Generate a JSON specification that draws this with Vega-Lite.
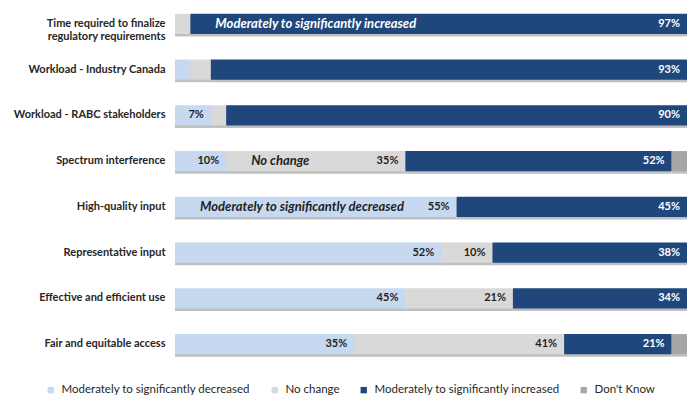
{
  "$schema": "https://vega.github.io/schema/vega-lite/v6.json",
  "description": "Stacked 100% bars of perceived change by area",
  "width": 512,
  "height": 366,
  "autosize": "none",
  "padding": {"left": 175, "top": 1, "right": 13, "bottom": 43},
  "background": "#FFFFFF",
  "data": {
    "values": [
      {"cat": "Time required to finalize regulatory requirements", "resp": "Moderately to significantly decreased", "order": 1, "pct": 0},
      {"cat": "Time required to finalize regulatory requirements", "resp": "No change", "order": 2, "pct": 3},
      {"cat": "Time required to finalize regulatory requirements", "resp": "Moderately to significantly increased", "order": 3, "pct": 97, "note": "Moderately to significantly increased"},
      {"cat": "Workload - Industry Canada", "resp": "Moderately to significantly decreased", "order": 1, "pct": 3},
      {"cat": "Workload - Industry Canada", "resp": "No change", "order": 2, "pct": 4},
      {"cat": "Workload - Industry Canada", "resp": "Moderately to significantly increased", "order": 3, "pct": 93},
      {"cat": "Workload - RABC stakeholders", "resp": "Moderately to significantly decreased", "order": 1, "pct": 7},
      {"cat": "Workload - RABC stakeholders", "resp": "No change", "order": 2, "pct": 3},
      {"cat": "Workload - RABC stakeholders", "resp": "Moderately to significantly increased", "order": 3, "pct": 90},
      {"cat": "Spectrum interference", "resp": "Moderately to significantly decreased", "order": 1, "pct": 10},
      {"cat": "Spectrum interference", "resp": "No change", "order": 2, "pct": 35, "note": "No change"},
      {"cat": "Spectrum interference", "resp": "Moderately to significantly increased", "order": 3, "pct": 52},
      {"cat": "Spectrum interference", "resp": "Don't Know", "order": 4, "pct": 3},
      {"cat": "High-quality input", "resp": "Moderately to significantly decreased", "order": 1, "pct": 55, "note": "Moderately to significantly decreased"},
      {"cat": "High-quality input", "resp": "Moderately to significantly increased", "order": 3, "pct": 45},
      {"cat": "Representative input", "resp": "Moderately to significantly decreased", "order": 1, "pct": 52},
      {"cat": "Representative input", "resp": "No change", "order": 2, "pct": 10},
      {"cat": "Representative input", "resp": "Moderately to significantly increased", "order": 3, "pct": 38},
      {"cat": "Effective and efficient use", "resp": "Moderately to significantly decreased", "order": 1, "pct": 45},
      {"cat": "Effective and efficient use", "resp": "No change", "order": 2, "pct": 21},
      {"cat": "Effective and efficient use", "resp": "Moderately to significantly increased", "order": 3, "pct": 34},
      {"cat": "Fair and equitable access", "resp": "Moderately to significantly decreased", "order": 1, "pct": 35},
      {"cat": "Fair and equitable access", "resp": "No change", "order": 2, "pct": 41},
      {"cat": "Fair and equitable access", "resp": "Moderately to significantly increased", "order": 3, "pct": 21},
      {"cat": "Fair and equitable access", "resp": "Don't Know", "order": 4, "pct": 3}
    ]
  },
  "transform": [
    {"stack": "pct", "groupby": ["cat"], "sort": [{"field": "order"}], "as": ["x0", "x1"]},
    {"calculate": "datum.pct + '%'", "as": "label"}
  ],
  "encoding": {
    "y": {
      "field": "cat",
      "type": "nominal",
      "sort": [
        "Time required to finalize regulatory requirements",
        "Workload - Industry Canada",
        "Workload - RABC stakeholders",
        "Spectrum interference",
        "High-quality input",
        "Representative input",
        "Effective and efficient use",
        "Fair and equitable access"
      ],
      "scale": {"paddingInner": 0.56, "paddingOuter": 0.28},
      "axis": {
        "title": null,
        "ticks": false,
        "domain": false,
        "labelPadding": 10,
        "labelFontSize": 11,
        "labelFontWeight": "bold",
        "labelColor": "#262626",
        "labelLimit": 200,
        "labelExpr": "datum.value == 'Time required to finalize regulatory requirements' ? ['Time required to finalize', 'regulatory requirements'] : datum.value"
      }
    }
  },
  "layer": [
    {
      "mark": {"type": "bar", "color": "#BFBFBF", "yOffset": 2.5},
      "encoding": {
        "x": {"field": "x0", "type": "quantitative", "scale": {"domain": [0, 100]}, "axis": null},
        "x2": {"field": "x1"}
      }
    },
    {
      "mark": {"type": "bar"},
      "encoding": {
        "x": {"field": "x0", "type": "quantitative", "scale": {"domain": [0, 100]}, "axis": null},
        "x2": {"field": "x1"},
        "color": {
          "field": "resp",
          "type": "nominal",
          "scale": {
            "domain": ["Moderately to significantly decreased", "No change", "Moderately to significantly increased", "Don't Know"],
            "range": ["#C6D9F1", "#D9D9D9", "#1F477B", "#A6A6A6"]
          },
          "legend": {
            "title": null,
            "orient": "none",
            "direction": "horizontal",
            "legendX": -130,
            "legendY": 383,
            "symbolType": "square",
            "symbolSize": 40,
            "symbolStrokeWidth": 0,
            "labelFontSize": 11.5,
            "labelColor": "#262626",
            "labelOffset": 5,
            "columnPadding": 18,
            "labelLimit": 300
          }
        }
      }
    },
    {
      "transform": [{"filter": "datum.pct >= 5"}],
      "mark": {"type": "text", "align": "right", "baseline": "middle", "dx": -7, "fontSize": 11, "fontWeight": "bold"},
      "encoding": {
        "x": {"field": "x1", "type": "quantitative"},
        "text": {"field": "label"},
        "color": {
          "condition": {"test": "datum.resp == 'Moderately to significantly increased'", "value": "#FFFFFF"},
          "value": "#1F1F1F"
        }
      }
    },
    {
      "transform": [{"filter": "isValid(datum.note)"}],
      "mark": {"type": "text", "align": "left", "baseline": "middle", "dx": 25, "fontSize": 13, "fontWeight": "bold", "fontStyle": "italic"},
      "encoding": {
        "x": {"field": "x0", "type": "quantitative"},
        "text": {"field": "note"},
        "color": {
          "condition": {"test": "datum.resp == 'Moderately to significantly increased'", "value": "#FFFFFF"},
          "value": "#1F1F1F"
        }
      }
    }
  ],
  "config": {
    "font": "Lato",
    "view": {"stroke": null}
  }
}
